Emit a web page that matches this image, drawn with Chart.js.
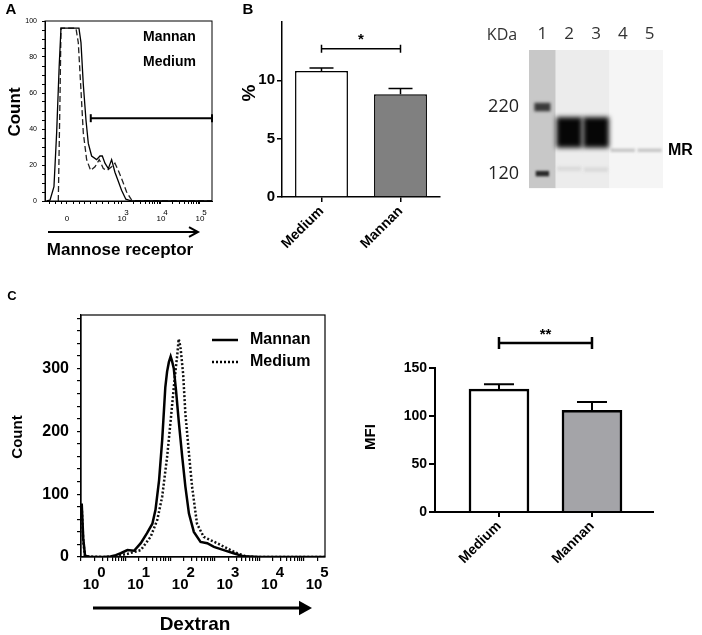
<!DOCTYPE html>
<html>
<head>
<meta charset="utf-8">
<script src="https://cdn.jsdelivr.net/npm/chart.js@4.4.1/dist/chart.umd.min.js"></script>
<style>
  html, body { margin: 0; padding: 0; background: #fff; width: 702px; height: 635px; overflow: hidden; }
  canvas { position: absolute; }
</style>
</head>
<body>
<canvas id="histA" width="230" height="262" style="left:0;top:0"></canvas>
<canvas id="barB" width="230" height="262" style="left:230px;top:0"></canvas>
<canvas id="blot" width="242" height="209" style="left:460px;top:0"></canvas>
<canvas id="histC" width="345" height="355" style="left:0;top:280px"></canvas>
<canvas id="barC" width="357" height="355" style="left:345px;top:280px"></canvas>
<script>
// ---- data ----
// panel A: mannose receptor histogram, x in decades of the display axis
const mrMannanX = [1.07, 1.154, 1.256, 1.325, 1.39, 1.436, 1.897, 1.949, 2.008, 2.077, 2.137, 2.222, 2.35, 2.436, 2.496, 2.564, 2.65, 2.735, 2.82, 2.906, 2.99, 3.1, 3.25, 5.31];
const mrMannanCount = [0, 0.5, 8, 38, 75, 96, 96, 88, 65, 45, 32, 25, 23, 25, 25, 21, 18, 23, 16, 11, 6, 1, 0, 0];
const mrMediumX = [1.367, 1.41, 1.436, 1.82, 1.88, 1.94, 2.008, 2.094, 2.197, 2.308, 2.418, 2.521, 2.623, 2.735, 2.82, 2.906, 3.017, 3.12, 3.25, 3.33, 5.31];
const mrMediumCount = [0, 56, 96, 96, 88, 65, 38, 23, 17, 19, 23, 18, 17, 19, 21, 17, 11, 5, 0.5, 0, 0];
const mrGateX = [2.2, 5.31];
const mrGateCount = 46;
const mrAxisPos = [1.59, 3, 4, 5];
const mrAxisText = ['0', '10^3', '10^4', '10^5'];

// panel B: % MR positive
const groups = ['Medium', 'Mannan'];
const pctMR = [10.8, 8.8];
const pctSem = [0.25, 0.5];
const pctSig = 12.7;
const pctTicks = [0, 5, 10];

// western blot
const lanes = ['1', '2', '3', '4', '5'];
const gelRange = [105, 371];
const mrBand = [null, [152, 201], [152, 201], null, null];
const mrFaintBand = [null, null, null, [146, 151], [146, 151]];
const lowSmear = [null, [123, 128], [122, 127], null, null];
const ladder220 = [[212, 229], null, null, null, null];
const ladder120 = [[117, 123], null, null, null, null];
const kdaTicks = [220, 120];
const mrKda = 148;

// panel C: dextran histogram
const dexMannanX = [0.016, 0.05, 0.09, 0.2, 0.5, 0.66, 0.78, 0.89, 1.04, 1.19, 1.34, 1.48, 1.6, 1.67, 1.75, 1.82, 1.89, 1.93, 1.97, 2.01, 2.04, 2.08, 2.13, 2.19, 2.27, 2.34, 2.42, 2.53, 2.68, 2.83, 2.98, 3.2, 3.42, 3.65, 4.0, 5.47];
const dexMannanCount = [85, 30, 2, 0, 0, 1, 3, 6, 11, 10, 22, 38, 53, 75, 122, 186, 270, 295, 310, 319, 312, 300, 265, 217, 159, 112, 69, 40, 24, 22, 16, 11, 6, 1, 0, 0];
const dexMediumX = [0.016, 0.05, 0.09, 0.5, 0.74, 1.04, 1.34, 1.56, 1.71, 1.82, 1.93, 2.01, 2.08, 2.16, 2.19, 2.23, 2.29, 2.34, 2.42, 2.49, 2.6, 2.75, 2.9, 3.05, 3.27, 3.5, 3.72, 4.0, 5.47];
const dexMediumCount = [80, 25, 1, 0, 1, 5, 11, 32, 59, 96, 159, 217, 270, 323, 347, 334, 291, 228, 165, 112, 53, 32, 27, 22, 14, 6, 0.5, 0, 0];
const dexAxisPos = [0, 1, 2, 3, 4, 5];
const dexAxisText = ['10^0', '10^1', '10^2', '10^3', '10^4', '10^5'];

// panel C: MFI
const mfi = [128, 106];
const mfiSem = [5, 8.5];
const mfiSig = 176;

// ---- helpers ----
Chart.defaults.font.family = 'Arial, "Liberation Sans", sans-serif';
Chart.defaults.color = '#000';
Chart.defaults.animation = false;
Chart.defaults.plugins.legend.display = false;
Chart.defaults.plugins.tooltip.enabled = false;

const pts = (xs, ys) => xs.map((x, i) => ({ x: x, y: ys[i] }));
const fixW = w => s => { s.width = w; };
const fixH = h => s => { s.height = h; };
const range = (a, b, step) => { const r = []; for (let v = a; v <= b + 1e-9; v += step) r.push(+v.toFixed(4)); return r; };
// minor log ticks between decades
const logMinor = decades => decades.flatMap(n => [2, 3, 4, 5, 6, 7, 8, 9].map(k => n + Math.log10(k)));
// '10^3' -> two lines, exponent on top and shifted right
const powLabel = (txt, pad) => {
  const p = txt.split('^');
  return p.length === 1 ? ['', p[0]] : [pad + p[1], p[0]];
};
const labelAt = (pos, texts, pad) => v => {
  const i = pos.findIndex(p => Math.abs(p - v) < 1e-3);
  return i < 0 ? '' : powLabel(texts[i], pad);
};

const annot = {
  id: 'annot',
  afterDraw(chart, args, o) {
    const ctx = chart.ctx;
    if (o.box) {
      const a = chart.chartArea;
      ctx.save(); ctx.strokeStyle = '#000'; ctx.lineWidth = o.box;
      ctx.strokeRect(a.left, a.top, a.right - a.left, a.bottom - a.top);
      ctx.restore();
    }
    (o.lines || []).forEach(l => {
      ctx.save(); ctx.strokeStyle = '#000'; ctx.lineWidth = l.width; ctx.setLineDash(l.dash || []);
      ctx.beginPath(); ctx.moveTo(l.x1, l.y); ctx.lineTo(l.x2, l.y); ctx.stroke();
      ctx.restore();
    });
    (o.arrows || []).forEach(r => {
      ctx.save(); ctx.strokeStyle = '#000'; ctx.fillStyle = '#000'; ctx.lineWidth = r.width;
      ctx.beginPath(); ctx.moveTo(r.x1, r.y); ctx.lineTo(r.filled ? r.x2 - r.size : r.x2, r.y); ctx.stroke();
      ctx.beginPath();
      ctx.moveTo(r.x2 - r.size, r.y - r.size * 0.55); ctx.lineTo(r.x2, r.y); ctx.lineTo(r.x2 - r.size, r.y + r.size * 0.55);
      if (r.filled) { ctx.closePath(); ctx.fill(); } else ctx.stroke();
      ctx.restore();
    });
    (o.texts || []).forEach(t => {
      ctx.save(); ctx.font = t.font; ctx.fillStyle = t.color || '#000';
      ctx.textAlign = t.align || 'center'; ctx.textBaseline = 'middle';
      ctx.translate(t.x, t.y); if (t.rot) ctx.rotate(t.rot * Math.PI / 180);
      ctx.fillText(t.t, 0, 0);
      ctx.restore();
    });
  }
};

const errorBars = {
  id: 'errorBars',
  afterDatasetsDraw(chart, args, o) {
    if (!o.errors) return;
    const ctx = chart.ctx, ys = chart.scales.y;
    const ds = chart.data.datasets[0];
    ctx.save(); ctx.strokeStyle = '#000'; ctx.lineWidth = o.width;
    chart.getDatasetMeta(0).data.forEach((bar, i) => {
      const v = typeof ds.data[i] === 'object' ? ds.data[i].y : ds.data[i];
      const top = ys.getPixelForValue(v + o.errors[i]);
      ctx.beginPath();
      ctx.moveTo(bar.x, bar.y); ctx.lineTo(bar.x, top);
      ctx.moveTo(bar.x - o.cap, top); ctx.lineTo(bar.x + o.cap, top);
      ctx.stroke();
    });
    ctx.restore();
  }
};

const bracket = {
  id: 'bracket',
  afterDatasetsDraw(chart, args, o) {
    if (o.y == null) return;
    const ctx = chart.ctx;
    const x1 = chart.scales.x.getPixelForValue(o.from), x2 = chart.scales.x.getPixelForValue(o.to);
    const y = chart.scales.y.getPixelForValue(o.y);
    ctx.save(); ctx.strokeStyle = '#000'; ctx.lineWidth = o.width;
    ctx.beginPath();
    ctx.moveTo(x1, y); ctx.lineTo(x2, y);
    ctx.moveTo(x1, y - o.cap); ctx.lineTo(x1, y + o.cap);
    ctx.moveTo(x2, y - o.cap); ctx.lineTo(x2, y + o.cap);
    ctx.stroke();
    ctx.font = o.font; ctx.fillStyle = '#000'; ctx.textAlign = 'center'; ctx.textBaseline = 'middle';
    ctx.fillText(o.label, (x1 + x2) / 2, y - o.gap);
    ctx.restore();
  }
};

const blur = {
  id: 'blur',
  beforeDatasetDraw(chart, args) {
    const px = chart.data.datasets[args.index].blurPx;
    if (px) { chart.ctx.save(); chart.ctx.filter = 'blur(' + px + 'px)'; }
  },
  afterDatasetDraw(chart, args) {
    if (chart.data.datasets[args.index].blurPx) chart.ctx.restore();
  }
};

Chart.register(annot, errorBars, bracket, blur);

const tickGrid = (len, w) => ({ drawOnChartArea: false, tickLength: len, color: '#000', lineWidth: w });

// ---- A: histogram ----
new Chart(document.getElementById('histA'), {
  type: 'line',
  data: {
    datasets: [
      { data: pts(mrMannanX, mrMannanCount), borderColor: '#000', borderWidth: 1.3, pointRadius: 0 },
      { data: pts(mrMediumX, mrMediumCount), borderColor: '#222', borderWidth: 1.3, borderDash: [6, 3], pointRadius: 0 },
      { data: pts(mrGateX, mrGateX.map(() => mrGateCount)), borderColor: '#000', borderWidth: 2,
        pointStyle: 'line', pointRotation: 90, pointRadius: 4, pointBorderWidth: 2, pointBorderColor: '#000', clip: false }
    ]
  },
  options: {
    responsive: false,
    layout: { padding: { top: 21, right: 18 } },
    scales: {
      x: {
        type: 'linear', min: 1.026, max: 5.31,
        afterFit: fixH(61),
        afterBuildTicks: s => {
          const minor = [1.15, 1.3, 1.45, 1.75, 1.9, 2.05, 2.2, 2.35, 2.5, 2.65, 2.8, 2.9].concat(logMinor([3, 4]));
          s.ticks = mrAxisPos.concat(minor).sort((a, b) => a - b).map(v => ({ value: v }));
        },
        ticks: { autoSkip: false, maxRotation: 0, padding: 6, font: { size: 8, lineHeight: 0.75 },
          callback: labelAt(mrAxisPos, mrAxisText, '    ') },
        grid: tickGrid(3, 1),
        border: { color: '#000', width: 1 }
      },
      y: {
        min: 0, max: 100,
        afterFit: fixW(45),
        afterBuildTicks: s => { s.ticks = range(0, 100, 5).map(v => ({ value: v })); },
        ticks: { autoSkip: false, padding: 5, font: { size: 7 }, callback: v => v % 20 === 0 ? v : '' },
        grid: tickGrid(3, 1),
        border: { color: '#000', width: 1 }
      }
    },
    plugins: {
      annot: {
        box: 1,
        arrows: [{ x1: 48, x2: 198, y: 232, width: 2, size: 9 }],
        texts: [
          { t: 'A', x: 11, y: 10, font: 'bold 15px Arial' },
          { t: 'Mannan', x: 143, y: 37, align: 'left', font: 'bold 14px Arial' },
          { t: 'Medium', x: 143, y: 62, align: 'left', font: 'bold 14px Arial' },
          { t: 'Count', x: 15, y: 112, rot: -90, font: 'bold 17px Arial' },
          { t: 'Mannose receptor', x: 120, y: 250, font: 'bold 17px Arial' }
        ]
      }
    }
  }
});

// ---- B: % bars ----
new Chart(document.getElementById('barB'), {
  type: 'bar',
  data: {
    labels: groups,
    datasets: [{ data: pctMR, backgroundColor: ['#ffffff', '#808080'], borderColor: '#000', borderWidth: 1.5,
      barPercentage: 0.67, categoryPercentage: 1 }]
  },
  options: {
    responsive: false,
    layout: { padding: { top: 22, right: 20 } },
    scales: {
      x: {
        afterFit: fixH(65),
        grid: Object.assign(tickGrid(5, 1.5), { offset: false }),
        border: { color: '#000', width: 1.5 },
        ticks: { minRotation: 45, maxRotation: 45, padding: 1, font: { size: 14, weight: 'bold' } }
      },
      y: {
        min: 0, max: 15,
        afterFit: fixW(52),
        afterBuildTicks: s => { s.ticks = pctTicks.map(v => ({ value: v })); },
        grid: tickGrid(5, 1.5),
        border: { color: '#000', width: 1.5 },
        ticks: { padding: 2, font: { size: 15, weight: 'bold' } }
      }
    },
    plugins: {
      errorBars: { errors: pctSem, cap: 12, width: 1.5 },
      bracket: { from: 0, to: 1, y: pctSig, cap: 4, width: 1.5, label: '*', gap: 9, font: 'bold 15px Arial' },
      annot: {
        texts: [
          { t: 'B', x: 18, y: 10, font: 'bold 15px Arial' },
          { t: '%', x: 20, y: 93, rot: -90, font: 'bold 19px Arial' }
        ]
      }
    }
  }
});

// ---- western blot ----
const blotFont = '"Open Sans", "Noto Sans", sans-serif';
new Chart(document.getElementById('blot'), {
  type: 'bar',
  data: {
    labels: lanes,
    datasets: [
      { data: mrBand, backgroundColor: '#060606', blurPx: 2.5, grouped: false, barPercentage: 0.96, categoryPercentage: 1, order: 1 },
      { data: mrFaintBand, backgroundColor: '#c9c9c9', blurPx: 1, grouped: false, barPercentage: 0.9, categoryPercentage: 1, order: 2 },
      { data: lowSmear, backgroundColor: '#d9d9d9', blurPx: 1.5, grouped: false, barPercentage: 0.9, categoryPercentage: 1, order: 2 },
      { data: ladder220, backgroundColor: '#3a3a3a', blurPx: 1.5, grouped: false, barPercentage: 0.6, categoryPercentage: 1, order: 2 },
      { data: ladder120, backgroundColor: '#2a2a2a', blurPx: 1, grouped: false, barPercentage: 0.5, categoryPercentage: 1, order: 2 },
      { data: lanes.map(() => gelRange), backgroundColor: ['#c8c8c8', '#ececec', '#ececec', '#f5f5f5', '#f5f5f5'],
        grouped: false, barPercentage: 1, categoryPercentage: 1, order: 5 }
    ]
  },
  options: {
    responsive: false,
    layout: { padding: { bottom: 13 } },
    scales: {
      x: {
        position: 'top',
        afterFit: fixH(50),
        grid: { display: false, drawTicks: false },
        border: { display: false },
        ticks: { padding: 6, color: '#333', font: { family: blotFont, size: 17 } }
      },
      y: {
        type: 'logarithmic', min: gelRange[0], max: gelRange[1],
        afterFit: fixW(69),
        afterBuildTicks: s => { s.ticks = kdaTicks.map(v => ({ value: v })); },
        grid: { display: false, drawTicks: false },
        border: { display: false },
        ticks: { padding: 10, color: '#222', font: { family: blotFont, size: 18 }, callback: v => String(v) }
      },
      yR: {
        type: 'logarithmic', position: 'right', min: gelRange[0], max: gelRange[1],
        afterFit: fixW(39),
        afterBuildTicks: s => { s.ticks = [{ value: mrKda }]; },
        grid: { display: false, drawTicks: false },
        border: { display: false },
        ticks: { padding: 5, font: { size: 16, weight: 'bold' }, callback: () => 'MR' }
      }
    },
    plugins: {
      annot: { texts: [{ t: 'KDa', x: 42, y: 35, color: '#333', font: '16px "Open Sans", "Noto Sans", sans-serif' }] }
    }
  }
});

// ---- C: dextran histogram ----
new Chart(document.getElementById('histC'), {
  type: 'line',
  data: {
    datasets: [
      { data: pts(dexMannanX, dexMannanCount), borderColor: '#000', borderWidth: 2.5, pointRadius: 0 },
      { data: pts(dexMediumX, dexMediumCount), borderColor: '#111', borderWidth: 2.5, borderDash: [2, 2], pointRadius: 0 }
    ]
  },
  options: {
    responsive: false,
    layout: { padding: { top: 35, right: 20 } },
    scales: {
      x: {
        type: 'linear', min: 0, max: 5.47,
        afterFit: fixH(78),
        afterBuildTicks: s => {
          s.ticks = dexAxisPos.concat(logMinor([0, 1, 2, 3, 4]), [5.301]).sort((a, b) => a - b).map(v => ({ value: v }));
        },
        ticks: { autoSkip: false, maxRotation: 0, padding: 6, labelOffset: 10,
          font: { size: 15, weight: 'bold', lineHeight: 0.8 },
          callback: labelAt(dexAxisPos, dexAxisText, '     ') },
        grid: tickGrid(4, 1.2),
        border: { color: '#000', width: 1.2 }
      },
      y: {
        min: 0, max: 385,
        afterFit: fixW(81),
        afterBuildTicks: s => { s.ticks = range(0, 380, 20).map(v => ({ value: v })); },
        ticks: { autoSkip: false, padding: 8, font: { size: 16, weight: 'bold' }, callback: v => v % 100 === 0 ? v : '' },
        grid: tickGrid(4, 1.2),
        border: { color: '#000', width: 1.2 }
      }
    },
    plugins: {
      annot: {
        box: 1.2,
        lines: [
          { x1: 212, x2: 238, y: 60, width: 2.5 },
          { x1: 212, x2: 238, y: 82, width: 2.5, dash: [2, 2] }
        ],
        arrows: [{ x1: 93, x2: 312, y: 328, width: 3, size: 13, filled: true }],
        texts: [
          { t: 'C', x: 12, y: 16, font: 'bold 13px Arial' },
          { t: 'Mannan', x: 250, y: 60, align: 'left', font: 'bold 16px Arial' },
          { t: 'Medium', x: 250, y: 82, align: 'left', font: 'bold 16px Arial' },
          { t: 'Count', x: 18, y: 157, rot: -90, font: 'bold 15px Arial' },
          { t: 'Dextran', x: 195, y: 345, font: 'bold 19px Arial' }
        ]
      }
    }
  }
});

// ---- C: MFI bars ----
new Chart(document.getElementById('barC'), {
  type: 'bar',
  data: {
    datasets: [{ data: pts([0, 1], mfi), backgroundColor: ['#ffffff', '#a4a4a8'], borderColor: '#000', borderWidth: 2.5,
      barThickness: 60 }]
  },
  options: {
    responsive: false,
    layout: { padding: { top: 88, right: 49 } },
    scales: {
      x: {
        type: 'linear', min: -0.688, max: 1.656, offset: false,
        afterFit: fixH(123),
        afterBuildTicks: s => { s.ticks = [{ value: 0 }, { value: 1 }]; },
        grid: Object.assign(tickGrid(5, 2), { offset: false }),
        border: { color: '#000', width: 2 },
        ticks: { minRotation: 45, maxRotation: 45, padding: 1, font: { size: 14, weight: 'bold' }, callback: v => groups[v] }
      },
      y: {
        min: 0, max: 150,
        afterFit: fixW(90),
        ticks: { stepSize: 50, padding: 2, font: { size: 14, weight: 'bold' } },
        grid: tickGrid(6, 2),
        border: { color: '#000', width: 2 }
      }
    },
    plugins: {
      errorBars: { errors: mfiSem, cap: 15, width: 2 },
      bracket: { from: 0, to: 1, y: mfiSig, cap: 6, width: 2.5, label: '**', gap: 8, font: 'bold 15px Arial' },
      annot: { texts: [{ t: 'MFI', x: 26, y: 157, rot: -90, font: 'bold 15px Arial' }] }
    }
  }
});
</script>
</body>
</html>
